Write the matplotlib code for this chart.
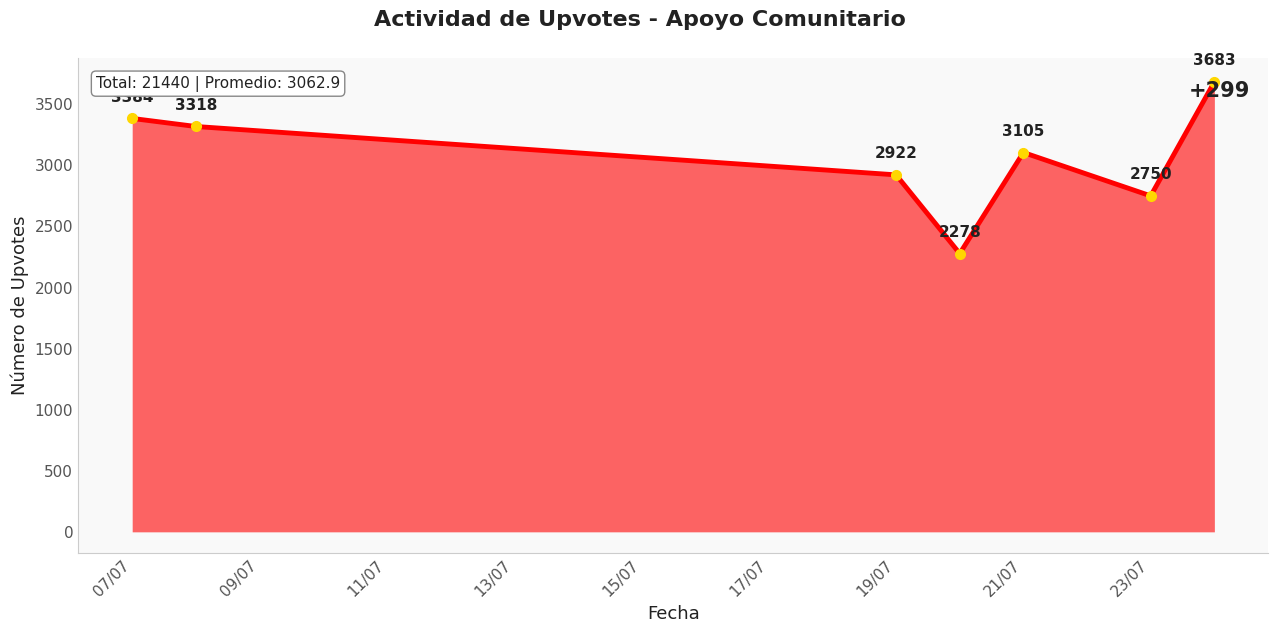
import matplotlib
matplotlib.use("Agg")
import matplotlib.pyplot as plt
import matplotlib.dates as mdates
import pandas as pd

dates = ["2024-07-07", "2024-07-08", "2024-07-19", "2024-07-20", "2024-07-21", "2024-07-23", "2024-07-24"]
upvotes = [3384, 3318, 2922, 2278, 3105, 2750, 3683]

x = pd.to_datetime(dates)
fig = plt.figure(figsize=(12.8, 6.34), dpi=100)
ax = fig.add_axes([0.061, 0.128, 0.93, 0.78])
ax.set_facecolor("#f9f9f9")
ax.fill_between(x, upvotes, color="red", alpha=0.6, linewidth=0)
ax.plot(x, upvotes, color="red", linewidth=3.5, marker="o", markersize=7,
        markerfacecolor="gold", markeredgecolor="gold", zorder=3)
for xi, v in zip(x, upvotes):
    ax.annotate(str(v), (xi, v), xytext=(0, 10), textcoords="offset points",
                ha="center", va="bottom", fontsize=11, fontweight="bold", color="#222222")
ax.set_ylim(-172, 3876)
ax.xaxis.set_major_locator(mdates.DayLocator(interval=2))
ax.xaxis.set_major_formatter(mdates.DateFormatter("%d/%m"))
plt.setp(ax.get_xticklabels(), rotation=45, ha="right")
ax.tick_params(colors="#555555", labelsize=11, length=0)
for s in ["top", "right"]:
    ax.spines[s].set_visible(False)
for s in ["left", "bottom"]:
    ax.spines[s].set_color("#cccccc")
ax.set_xlabel("Fecha", fontsize=13, color="#222222")
ax.set_ylabel("Número de Upvotes", fontsize=13, color="#222222")
fig.suptitle("Actividad de Upvotes - Apoyo Comunitario", fontsize=16, fontweight="bold",
             color="#222222", y=0.985)
total = sum(upvotes)
avg = total / len(upvotes)
ax.text(0.015, 0.965, f"Total: {total} | Promedio: {avg:.1f}", transform=ax.transAxes,
        fontsize=11, va="top", ha="left", color="#222222",
        bbox=dict(boxstyle="round,pad=0.3", facecolor="white", edgecolor="#888888"))
diff = upvotes[-1] - upvotes[0]
ax.text(0.985, 0.955, f"+{diff}", transform=ax.transAxes, fontsize=15, fontweight="bold",
        va="top", ha="right", color="#222222")
fig.savefig("out.png", dpi=100)
